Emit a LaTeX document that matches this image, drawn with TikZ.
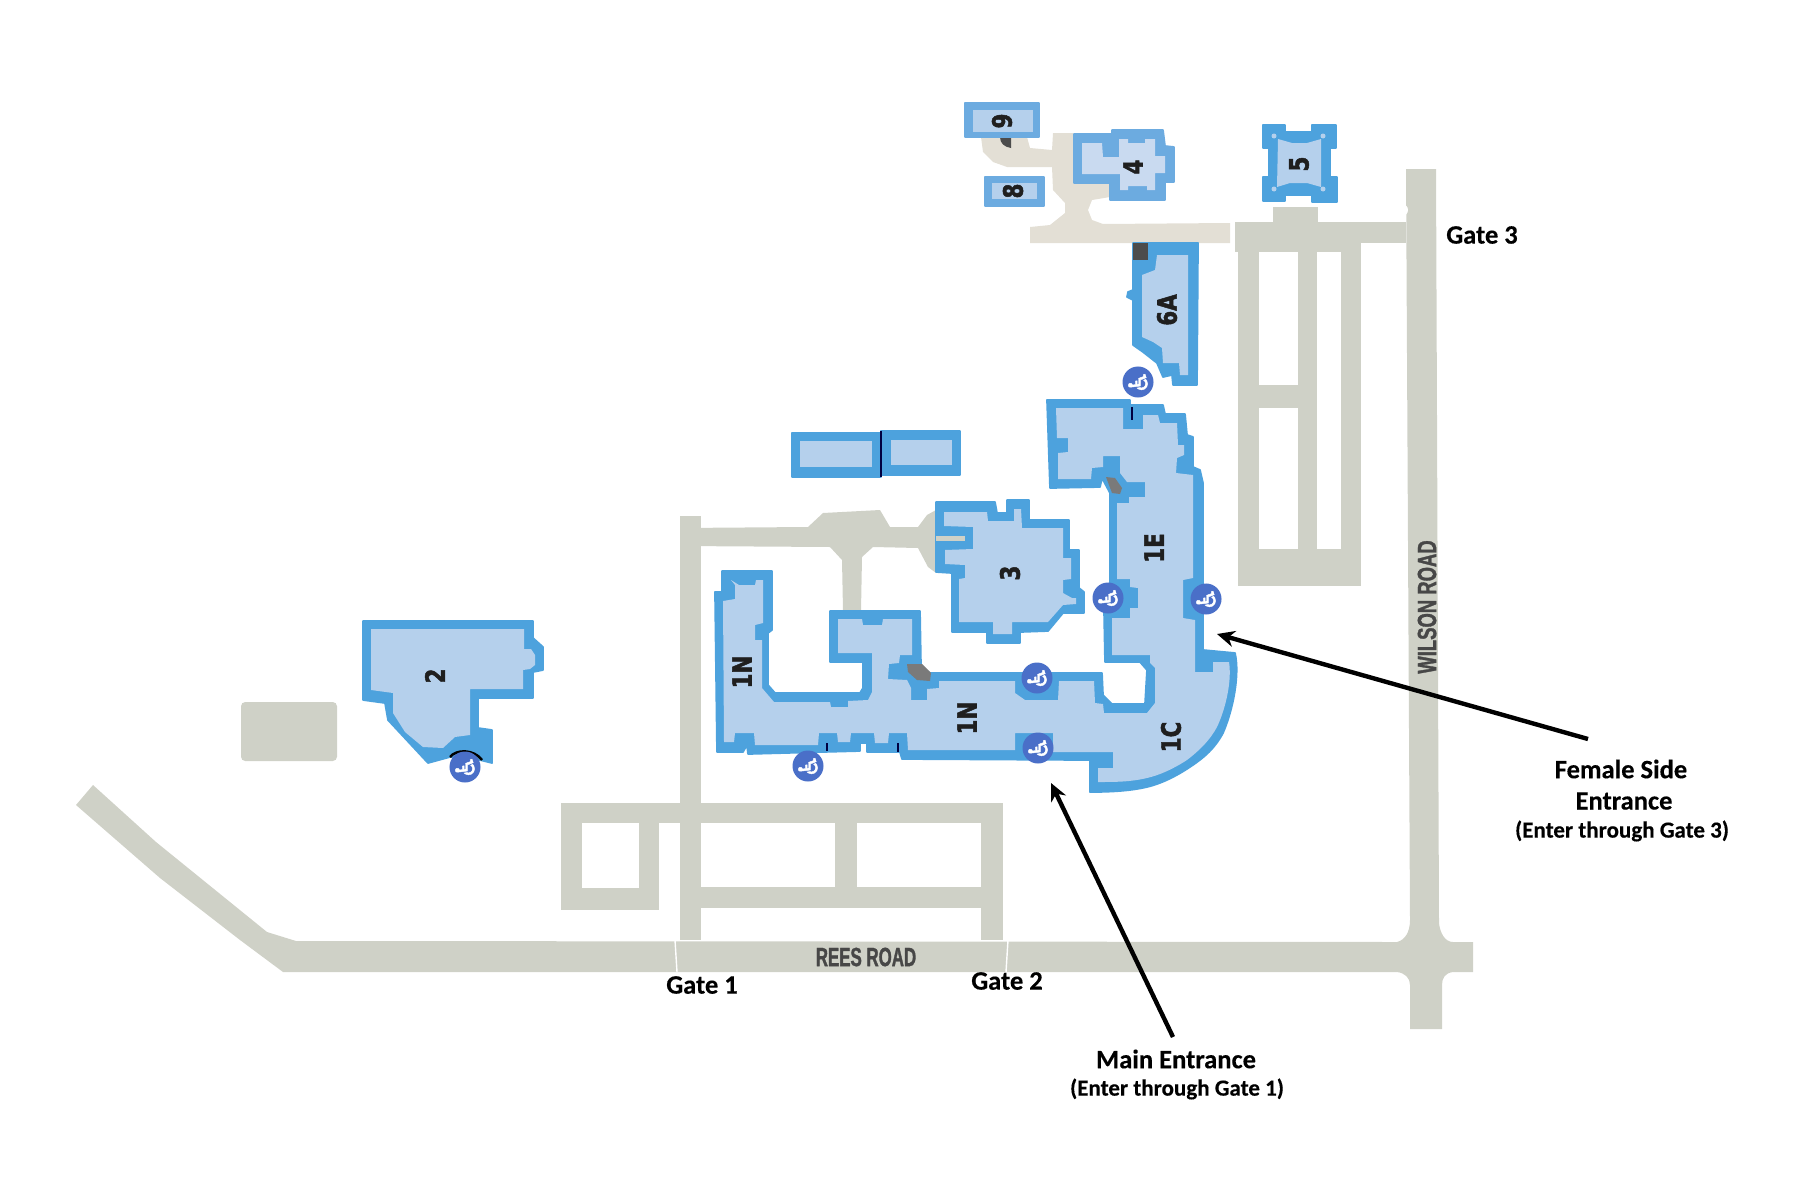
\documentclass[tikz,border=0pt]{standalone}
\usepackage{fontspec}
\setmainfont{Carlito}[BoldFeatures={FakeBold=0.3}]
\newfontfamily\bldgfont{DejaVu Sans}[FakeStretch=0.8,BoldFeatures={FakeBold=1.8}]
\newfontfamily\roadfont{Liberation Sans}[FakeStretch=0.64,BoldFeatures={FakeBold=1.2}]
\newfontfamily\roadfontlong{Liberation Sans}[FakeStretch=0.7,BoldFeatures={FakeBold=1.2}]
\newfontfamily\symfont{DejaVu Sans}[FakeBold=1.5]
\usetikzlibrary{arrows.meta}
\definecolor{roadgray}{HTML}{CFD1C7}
\definecolor{walkbeige}{HTML}{E3DFD5}
\definecolor{wallblue}{HTML}{4DA2DD}
\definecolor{wallpale}{HTML}{6CABE0}
\definecolor{roomblue}{HTML}{B5D0EC}
\definecolor{roompale}{HTML}{C9DAF0}
\definecolor{markblue}{HTML}{4A6FC8}
\definecolor{stairgray}{HTML}{7A7A7A}
\tikzset{
    road/.style={fill=roadgray},
    walk/.style={fill=walkbeige},
    wall/.style={fill=wallblue, draw=wallblue, line width=0.5pt, line join=round},
    wallb/.style={fill=wallpale, draw=wallpale, line width=0.5pt, line join=round},
    room/.style={fill=roomblue},
    roomb/.style={fill=roompale},
    stair/.style={fill=stairgray},
    divider/.style={draw=black!75!blue, line width=0.4pt},
    bldglabel/.style={font=\bldgfont\bfseries\fontsize{7.6}{9}\selectfont, text=black!88, rotate=90, inner sep=0pt},
    roadlabel/.style={font=\roadfont\bfseries\fontsize{7.5}{9}\selectfont, text=black!72, inner sep=0pt},
    gatelabel/.style={font=\bfseries\fontsize{7.55}{9}\selectfont, inner sep=0pt},
    notelabel/.style={font=\bfseries\fontsize{6.55}{8}\selectfont, inner sep=0pt},
    wheelmark/.style={circle, fill=markblue, text=white, inner sep=0pt, minimum size=0.31cm,
        font=\symfont\fontsize{7.5}{7.5}\selectfont, rotate=90},
    entrarrow/.style={-{Stealth[length=5pt,width=4.6pt]}, line width=1.25pt, black}
}
\newcommand{\wcsym}{^^^^267f}
\begin{document}
\begin{tikzpicture}[x=0.01cm,y=-0.01cm]
        \useasboundingbox (0,0) rectangle (1800,1200);

        % roads
        \fill[road] (76,805) -- (93,785) -- (156,842) -- (267,932) -- (296,941) -- (1397,942)
            .. controls (1405,940) and (1410,932) .. (1410,920) -- (1406,169) -- (1436,169) -- (1439,923)
            .. controls (1440,933) and (1445,942) .. (1453,942) -- (1473,942) -- (1473,972) -- (1453,972)
            .. controls (1445,973) and (1442,978) .. (1442,985) -- (1442,1029) -- (1410,1029) -- (1410,985)
            .. controls (1410,978) and (1405,973) .. (1397,972) -- (283,972) -- (240,940) -- (160,878) -- cycle;
        \fill[road] (680,516) rectangle (701,940);
        \fill[road] (561,803) rectangle (1003,823);
        \fill[road] (561,823) rectangle (582,910);
        \fill[road] (582,888) rectangle (659,910);
        \fill[road] (639,823) rectangle (659,888);
        \fill[road] (835,823) rectangle (857,887);
        \fill[road] (981,823) rectangle (1003,940);
        \fill[road] (701,887) rectangle (1003,908);
        \fill[road] (1235,222) rectangle (1406,243);
        \fill[road] (1235,243) rectangle (1341,252);
        \fill[road] (1273,207) rectangle (1318,223);
        \fill[road] (1238,252) rectangle (1259,586);
        \fill[road] (1298,252) rectangle (1317,550);
        \fill[road] (1341,243) rectangle (1361,586);
        \fill[road] (1238,549) rectangle (1361,586);
        \fill[road] (1259,385) rectangle (1298,408);
        \fill[road, rounded corners=1.2pt] (241,702) rectangle (337,761);
        \fill[road] (680,528) -- (808,527) -- (823,513) -- (880,510) -- (890,527) -- (918,527) -- (927,515)
            -- (936,510) -- (936,573) -- (928,567) -- (918,548) -- (873,547) -- (862,557) -- (861,611)
            -- (843,611) -- (842,560) -- (830,547) -- (680,546) -- cycle;

        % gates
        \draw[white, line width=0.4pt] (675,940) -- (677,972);
        \draw[white, line width=0.4pt] (1008,940) -- (1006,972);
        \fill[white] (1008,936) circle (4);
        \fill[white] (1402,210) circle (6);

        % walkway at the top
        \fill[walk] (981,137) -- (983,152) -- (993,162) -- (1007,167) -- (1052,167) -- (1053,190) -- (1065,203)
            -- (1065,213) -- (1050,225) -- (1030,227) -- (1030,243) -- (1230,243) -- (1230,223) -- (1103,224)
            -- (1092,220) -- (1088,210) -- (1092,200) -- (1110,197) -- (1110,180) -- (1075,180) -- (1075,133)
            -- (1053,133) -- (1052,150) -- (1030,148) -- (1027,137) -- cycle;
        \fill[black!70] (1000,137) -- (1011,137) -- (1011,148) .. controls (1004,147) and (1000,143) .. cycle;

        % building 2
        \filldraw[wall] (363,621) -- (533,621) -- (533,638) -- (543,647) -- (543,670) -- (533,672) -- (533,698)
            -- (478,698) -- (478,728) -- (492,730) -- (492,763) -- (480,760) -- (450,757) -- (428,763)
            -- (388,720) -- (385,703) -- (363,700) -- cycle;
        \fill[room] (371,629) -- (524,629) -- (524,649) -- (531,649) -- (535,655) -- (535,665) -- (530,669)
            -- (523,670) -- (523,689) -- (470,689) -- (470,735) -- (455,737) -- (443,748) -- (423,747)
            -- (405,732) -- (393,713) -- (393,693) -- (371,690) -- cycle;
        \draw[black, line width=0.7pt] (450,757) .. controls (456,749) and (474,749) .. (482,760);

        % buildings 9 and 8
        \filldraw[wallb] (965,103) rectangle (1039,137);
        \fill[room] (973,110) rectangle (1033,132);
        \filldraw[wallb] (985,177) rectangle (1044,206);
        \fill[room] (992,183) rectangle (1037,199);

        % building 4
        \filldraw[wallb] (1074,134) -- (1112,134) -- (1112,130) -- (1163,130) -- (1165,146) -- (1174,147) -- (1174,182)
            -- (1165,182) -- (1165,200) -- (1110,200) -- (1110,183) -- (1074,183) -- cycle;
        \fill[roomb] (1082,143) -- (1102,143) -- (1103,157) -- (1119,157) -- (1119,139) -- (1128,139) -- (1128,143)
            -- (1145,143) -- (1145,139) -- (1155,139) -- (1155,156) -- (1165,156) -- (1165,173) -- (1155,173)
            -- (1155,190) -- (1147,190) -- (1147,186) -- (1128,186) -- (1128,190) -- (1120,190) -- (1120,174)
            -- (1082,174) -- cycle;

        % building 5
        \filldraw[wall] (1263,125) -- (1285,125) -- (1285,132) -- (1312,132) -- (1312,125) -- (1336,125) -- (1336,148)
            -- (1330,148) -- (1330,177) -- (1337,177) -- (1337,202) -- (1312,202) -- (1312,195) -- (1285,195)
            -- (1285,201) -- (1263,201) -- (1263,177) -- (1269,177) -- (1269,148) -- (1263,148) -- cycle;
        \fill[room] (1278,139) -- (1292,143) -- (1307,143) -- (1321,139) -- (1321,187) -- (1307,183) -- (1290,183)
            -- (1277,187) -- cycle;
        \fill[room] (1274,136) circle (2.5);
        \fill[room] (1323,136) circle (2.5);
        \fill[room] (1274,189) circle (2.5);
        \fill[room] (1323,189) circle (2.5);

        % building 6A
        \filldraw[wall] (1133,243) -- (1198,243) -- (1197,385) -- (1173,385) -- (1172,375) -- (1163,377) -- (1157,363)
            -- (1143,352) -- (1133,345) -- (1133,300) -- (1127,297) -- (1128,292) -- (1133,290) -- cycle;
        \fill[room] (1157,255) -- (1188,255) -- (1188,375) -- (1180,375) -- (1179,363) -- (1163,363) -- (1162,348)
            -- (1153,342) -- (1142,337) -- (1142,275) -- (1155,270) -- cycle;
        \fill[black!70] (1133,243) rectangle (1148,260);

        % twin blocks
        \filldraw[wall] (792,433) rectangle (881,477);
        \fill[room] (800,441) rectangle (872,467);
        \filldraw[wall] (881,431) rectangle (960,475);
        \fill[room] (891,440) rectangle (952,465);
        \draw[divider, line width=0.6pt] (881,431) -- (881,477);

        % building 3
        \filldraw[wall] (936,502) -- (995,502) -- (997,513) -- (1007,513) -- (1007,500) -- (1029,500) -- (1029,520)
            -- (1069,520) -- (1069,550) -- (1079,550) -- (1079,588) -- (1084,592) -- (1084,613) -- (1063,613)
            -- (1048,631) -- (1020,632) -- (1020,643) -- (987,643) -- (987,632) -- (952,632) -- (952,573)
            -- (936,572) -- cycle;
        \fill[room] (944,512) -- (987,512) -- (988,521) -- (1014,521) -- (1014,509) -- (1021,509) -- (1022,528)
            -- (1063,528) -- (1063,558) -- (1071,558) -- (1071,579) -- (1063,580) -- (1063,593) -- (1072,598)
            -- (1076,598) -- (1076,604) -- (1063,605) -- (1048,622) -- (1012,622) -- (1012,634) -- (993,634)
            -- (993,622) -- (959,622) -- (959,579) -- (965,578) -- (965,565) -- (945,564) -- (945,550)
            -- (973,549) -- (973,527) -- (944,526) -- cycle;
        \fill[road] (936,536) rectangle (965,541);

        % main building
        \filldraw[wall] (1047,400) -- (1130,400) -- (1130,405) -- (1163,405) -- (1165,414) -- (1185,414) -- (1187,435)
            -- (1193,437) -- (1193,467) -- (1200,470) -- (1203,483) -- (1203,650) -- (1235,653)
            .. controls (1240,675) and (1233,710) .. (1223,733) .. controls (1215,748) and (1205,757) .. (1190,767)
            .. controls (1175,777) and (1160,784) .. (1147,787) .. controls (1130,791) and (1110,792) .. (1090,792)
            -- (1090,760) -- (902,759) -- (900,752) -- (867,752) -- (867,743) -- (860,743) -- (860,751)
            -- (822,752) -- (748,754) -- (747,745) -- (743,752) -- (717,752) -- (715,592) -- (722,592)
            -- (722,571) -- (772,571) -- (772,630) -- (768,633) -- (768,685) -- (775,693) -- (860,693)
            -- (863,688) -- (863,662) -- (830,662) -- (830,611) -- (920,611) -- (921,667) -- (930,673)
            -- (1102,673) -- (1103,695) -- (1112,704) -- (1145,704) -- (1147,670) -- (1140,662) -- (1105,662)
            -- (1104,610) -- (1110,583) -- (1110,493) -- (1102,478) -- (1100,487) -- (1050,488) -- cycle;
        \fill[room] (1056,408) -- (1123,408) -- (1123,429) -- (1143,429) -- (1143,415) -- (1158,415) -- (1160,423)
            -- (1177,423) -- (1178,445) -- (1184,445) -- (1184,455) -- (1177,458) -- (1176,473) -- (1193,475)
            -- (1193,578) -- (1183,580) -- (1183,618) -- (1195,620) -- (1195,672) -- (1213,672) -- (1213,662)
            -- (1229,662) .. controls (1232,680) and (1226,708) .. (1217,727) .. controls (1210,740) and (1200,750) .. (1187,760)
            .. controls (1173,769) and (1160,775) .. (1147,778) .. controls (1130,782) and (1115,782) .. (1098,782)
            -- (1098,768) -- (1113,768) -- (1113,752) -- (1053,752) -- (1053,733) -- (1015,733) -- (1015,750)
            -- (908,750) -- (907,733) -- (889,733) -- (888,743) -- (875,743) -- (874,733) -- (851,733)
            -- (850,742) -- (838,742) -- (837,733) -- (819,733) -- (818,745) -- (755,745) -- (754,733)
            -- (735,733) -- (734,742) -- (724,742) -- (723,601) -- (735,599) -- (735,585) -- (731,580)
            -- (739,585) -- (755,585) -- (756,580) -- (763,580) -- (763,623) -- (755,625) -- (755,640)
            -- (762,640) -- (762,688) -- (774,702) -- (830,702) -- (831,707) -- (848,707) -- (848,701)
            -- (868,700) -- (872,692) -- (872,653) -- (838,653) -- (838,619) -- (862,619) -- (863,625)
            -- (882,625) -- (883,619) -- (912,619) -- (912,655) -- (900,655) -- (899,663) -- (889,664)
            -- (888,679) -- (907,680) -- (911,688) -- (911,700) -- (927,700) -- (927,689) -- (939,688)
            -- (939,681) -- (1015,681) -- (1015,693) -- (1025,700) -- (1058,700) -- (1059,681) -- (1094,681)
            -- (1095,703) -- (1103,704) -- (1104,713) -- (1147,713) -- (1155,703) -- (1155,668) -- (1150,663)
            -- (1150,655) -- (1112,655) -- (1112,618) -- (1130,618) -- (1130,608) -- (1138,608) -- (1138,588)
            -- (1130,587) -- (1130,579) -- (1117,579) -- (1117,503) -- (1129,503) -- (1129,497) -- (1145,497)
            -- (1145,482) -- (1127,482) -- (1120,473) -- (1120,456) -- (1103,456) -- (1103,467) -- (1092,468)
            -- (1091,479) -- (1058,479) -- (1058,453) -- (1068,452) -- (1068,438) -- (1057,438) -- cycle;
        \fill[stair] (1106,477) -- (1115,478) -- (1122,488) -- (1120,494) -- (1112,493) -- cycle;
        \fill[stair] (907,664) -- (922,664) -- (931,673) -- (930,681) -- (917,680) -- (908,672) -- cycle;
        \draw[divider] (1132,407) -- (1132,420);
        \draw[divider] (827,743) -- (827,751);
        \draw[divider] (898,743) -- (898,752);

        % wheelchair marks
        \node[wheelmark] (wcTwo) at (465,767) {\wcsym};
        \node[wheelmark] (wcWest) at (808,766) {\wcsym};
        \node[wheelmark] (wcNorth) at (1037,678) {\wcsym};
        \node[wheelmark] (wcSouth) at (1038,748) {\wcsym};
        \node[wheelmark] (wcInner) at (1108,598) {\wcsym};
        \node[wheelmark] (wcOuter) at (1206,599) {\wcsym};
        \node[wheelmark] (wcSix) at (1138,382) {\wcsym};

        % building names
        \node[bldglabel] (nameTwo) at (435,676) {2};
        \node[bldglabel] (nameThree) at (1010,573) {3};
        \node[bldglabel] (nameFour) at (1133,167) {4};
        \node[bldglabel] (nameFive) at (1299,164) {5};
        \node[bldglabel] (nameSix) at (1167,310) {6A};
        \node[bldglabel] (nameEight) at (1013,191) {8};
        \node[bldglabel] (nameNine) at (1002,121) {9};
        \node[bldglabel] (nameNa) at (742,672) {1N};
        \node[bldglabel] (nameNb) at (967,718) {1N};
        \node[bldglabel] (nameC) at (1171,737) {1C};
        \node[bldglabel] (nameE) at (1154,548) {1E};

        % roads and gates
        \node[roadlabel] (rees) at (866,957) {REES ROAD};
        \node[roadlabel, rotate=90, font=\roadfontlong\bfseries\fontsize{7.5}{9}\selectfont] (wilson) at (1427,607) {WILSON ROAD};
        \node[gatelabel] (gateOne) at (702,985) {Gate 1};
        \node[gatelabel] (gateTwo) at (1007,981) {Gate 2};
        \node[gatelabel] (gateThree) at (1482,235) {Gate 3};

        % entrances
        \node[gatelabel] (mainEntr) at (1176,1059) {Main Entrance};
        \node[notelabel] (mainNote) at (1177,1089) {(Enter through Gate 1)};
        \node[gatelabel] (femaleEntr) at (1621,769) {Female Side};
        \node[gatelabel] (femaleEntrb) at (1624,801) {Entrance};
        \node[notelabel] (femaleNote) at (1622,831) {(Enter through Gate 3)};

        \coordinate (mainTail) at (1173,1037);
        \coordinate (mainTip) at (1051,783);
        \coordinate (femaleTail) at (1588,739);
        \coordinate (femaleTip) at (1217,634);
        \draw[entrarrow] (mainTail) -- (mainTip);
        \draw[entrarrow] (femaleTail) -- (femaleTip);
    \end{tikzpicture}
\end{document}
